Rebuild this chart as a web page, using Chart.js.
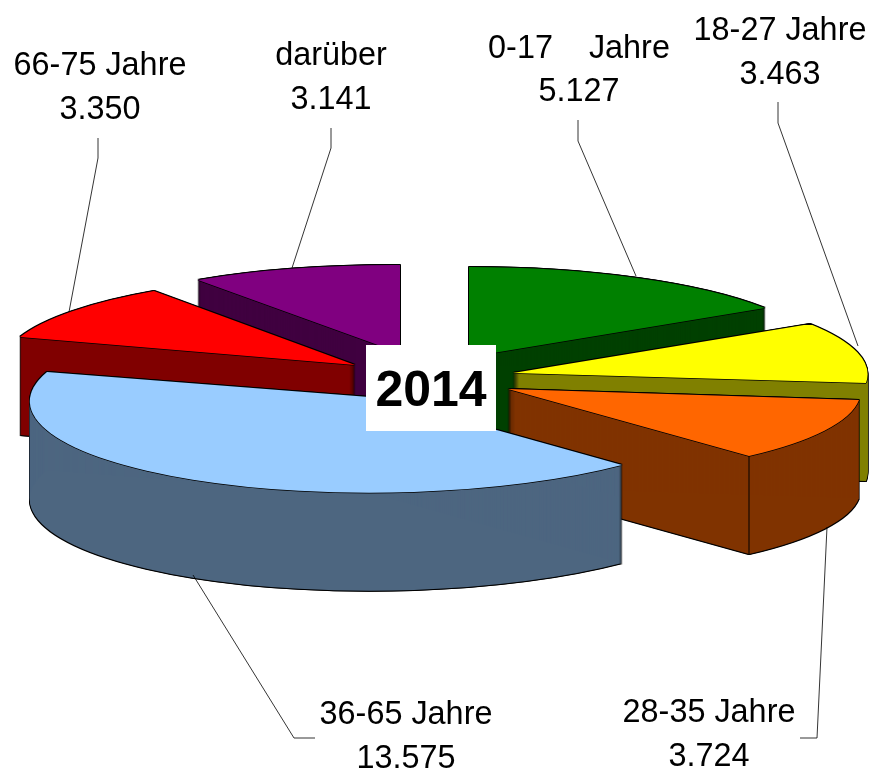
<!DOCTYPE html>
<html>
<head>
<meta charset="utf-8">
<title>2014</title>
<style>
  html, body { margin: 0; padding: 0; background: #fff; }
  canvas { display: block; }
</style>
<script src="https://cdn.jsdelivr.net/npm/chart.js@4/dist/chart.umd.min.js"></script>
</head>
<body>
<canvas id="pie" width="870" height="771"></canvas>
<script>
// Data, clockwise from twelve o'clock
var categories = ['0-17    Jahre', '18-27 Jahre', '28-35 Jahre', '36-65 Jahre', '66-75 Jahre', 'darüber'];
var values = [5127, 3463, 3724, 13575, 3350, 3141];
var title = '2014';

// Slice colours: top face and side wall
var topColors  = ['#008000', '#ffff00', '#ff6600', '#99ccff', '#ff0000', '#800080'];
var wallColors = ['#004000', '#808000', '#803300', '#4d6680', '#800000', '#400040'];

// The old 3D look: each exploded slice is fitted by where its tip and its two
// rim corners land, as [tip, rim corner at start angle, rim corner at end angle]
var sliceFrames = [
  [[469, 357], [469, 267], [765, 308]],
  [[513, 373], [810, 324], [866, 383]],
  [[508, 389], [859, 400], [749, 456]],
  [[382, 398], [622, 465], [47, 372]],
  [[355, 365], [20, 337], [154, 291]],
  [[400, 353], [198, 280], [400, 265]]
];
var drawOrder = [5, 0, 4, 1, 2, 3]; // back to front
var wallDepth = 98;
var creases = [null, null, 'end', null, null, null]; // visible vertical wall edges

// Label placement: centre x, baseline of name, baseline of value
var labelSpots = [
  [579, 58, 101],
  [780, 40, 84],
  [709, 722, 766],
  [406, 724, 768],
  [100, 75, 119],
  [331, 65, 109]
];
var leaders = [
  [[578, 120], [578, 141], [636, 276]],
  [[778, 102], [778, 123], [858, 346]],
  [[800, 738], [817, 738], [827, 527]],
  [[315, 738], [294, 738], [193, 575]],
  [[98, 138], [98, 158], [69, 312]],
  [[331, 128], [331, 148], [292, 268]]
];
var titleBox = [366, 345, 130, 86];

function flatOptions(color) {
  return {
    backgroundColor: color, borderColor: color, borderWidth: 0, offset: 0, spacing: 0,
    borderRadius: 0, circular: true, borderAlign: 'center', borderJoinStyle: 'round',
    borderDash: [], borderDashOffset: 0
  };
}

// Affine frame that carries the unit circle on to the fitted tip and corners
function frameFor(arc, frame) {
  var u1 = [Math.cos(arc.startAngle), Math.sin(arc.startAngle)];
  var u2 = [Math.cos(arc.endAngle), Math.sin(arc.endAngle)];
  var tip = frame[0];
  var v1 = [frame[1][0] - tip[0], frame[1][1] - tip[1]];
  var v2 = [frame[2][0] - tip[0], frame[2][1] - tip[1]];
  var det = u1[0] * u2[1] - u1[1] * u2[0];
  return {
    tip: tip,
    a: (v1[0] * u2[1] - v2[0] * u1[1]) / det,
    c: (v2[0] * u1[0] - v1[0] * u2[0]) / det,
    b: (v1[1] * u2[1] - v2[1] * u1[1]) / det,
    d: (v2[1] * u1[0] - v1[1] * u2[0]) / det
  };
}

function stamp(ctx, arc, m, color, dx, dy) {
  var r = arc.outerRadius;
  ctx.save();
  ctx.translate(m.tip[0] + dx, m.tip[1] + dy);
  ctx.transform(m.a / r, m.b / r, m.c / r, m.d / r, 0, 0);
  ctx.translate(-arc.x, -arc.y);
  arc.options = flatOptions(color);
  arc.draw(ctx);
  ctx.restore();
}

function drawSlice(ctx, arc, i) {
  var m = frameFor(arc, sliceFrames[i]);
  var d;
  // black halo first, the colour on top of it leaves the thin outline
  [[-0.8, 0], [0.8, 0]].forEach(function (s) {
    for (d = -1; d <= wallDepth + 1; d++) stamp(ctx, arc, m, '#000', s[0], d);
  });
  for (d = 0; d <= wallDepth; d++) stamp(ctx, arc, m, wallColors[i], 0, d);

  if (creases[i]) {
    var corner = sliceFrames[i][creases[i] === 'end' ? 2 : 1];
    ctx.strokeStyle = '#000';
    ctx.lineWidth = 1;
    ctx.beginPath();
    ctx.moveTo(corner[0], corner[1]);
    ctx.lineTo(corner[0], corner[1] + wallDepth);
    ctx.stroke();
  }

  [[-0.8, 0], [0.8, 0], [0, -0.8], [0, 0.8]].forEach(function (s) {
    stamp(ctx, arc, m, '#000', s[0], s[1]);
  });
  stamp(ctx, arc, m, topColors[i], 0, 0);
}

function valueLabel(v) {
  return String(v).replace(/\B(?=(\d{3})+$)/g, '.');
}

var pie3dPlugin = {
  id: 'pie3d',
  beforeDatasetsDraw: function (chart) {
    var ctx = chart.ctx;
    var arcs = chart.getDatasetMeta(0).data;
    drawOrder.forEach(function (i) { drawSlice(ctx, arcs[i], i); });

    // leader lines
    ctx.save();
    ctx.strokeStyle = '#000';
    ctx.lineWidth = 0.8;
    leaders.forEach(function (pts) {
      ctx.beginPath();
      pts.forEach(function (p, k) {
        if (k === 0) ctx.moveTo(p[0], p[1]); else ctx.lineTo(p[0], p[1]);
      });
      ctx.stroke();
    });

    // labels
    ctx.fillStyle = '#000';
    ctx.textAlign = 'center';
    ctx.textBaseline = 'alphabetic';
    ctx.font = '32.4px "Liberation Sans"';
    categories.forEach(function (name, i) {
      ctx.fillText(name, labelSpots[i][0], labelSpots[i][1]);
      ctx.fillText(valueLabel(values[i]), labelSpots[i][0], labelSpots[i][2]);
    });

    // white year box in the middle
    ctx.fillStyle = '#fff';
    ctx.fillRect(titleBox[0], titleBox[1], titleBox[2], titleBox[3]);
    ctx.fillStyle = '#000';
    ctx.font = 'bold 50px "Liberation Sans"';
    ctx.fillText(title, titleBox[0] + titleBox[2] / 2, titleBox[1] + 61);
    ctx.restore();
    return false;
  }
};

new Chart(document.getElementById('pie'), {
  type: 'pie',
  data: {
    labels: categories,
    datasets: [{ data: values, backgroundColor: topColors, borderWidth: 0 }]
  },
  options: {
    responsive: false,
    animation: false,
    plugins: { legend: { display: false }, tooltip: { enabled: false } }
  },
  plugins: [pie3dPlugin]
});
</script>
</body>
</html>
